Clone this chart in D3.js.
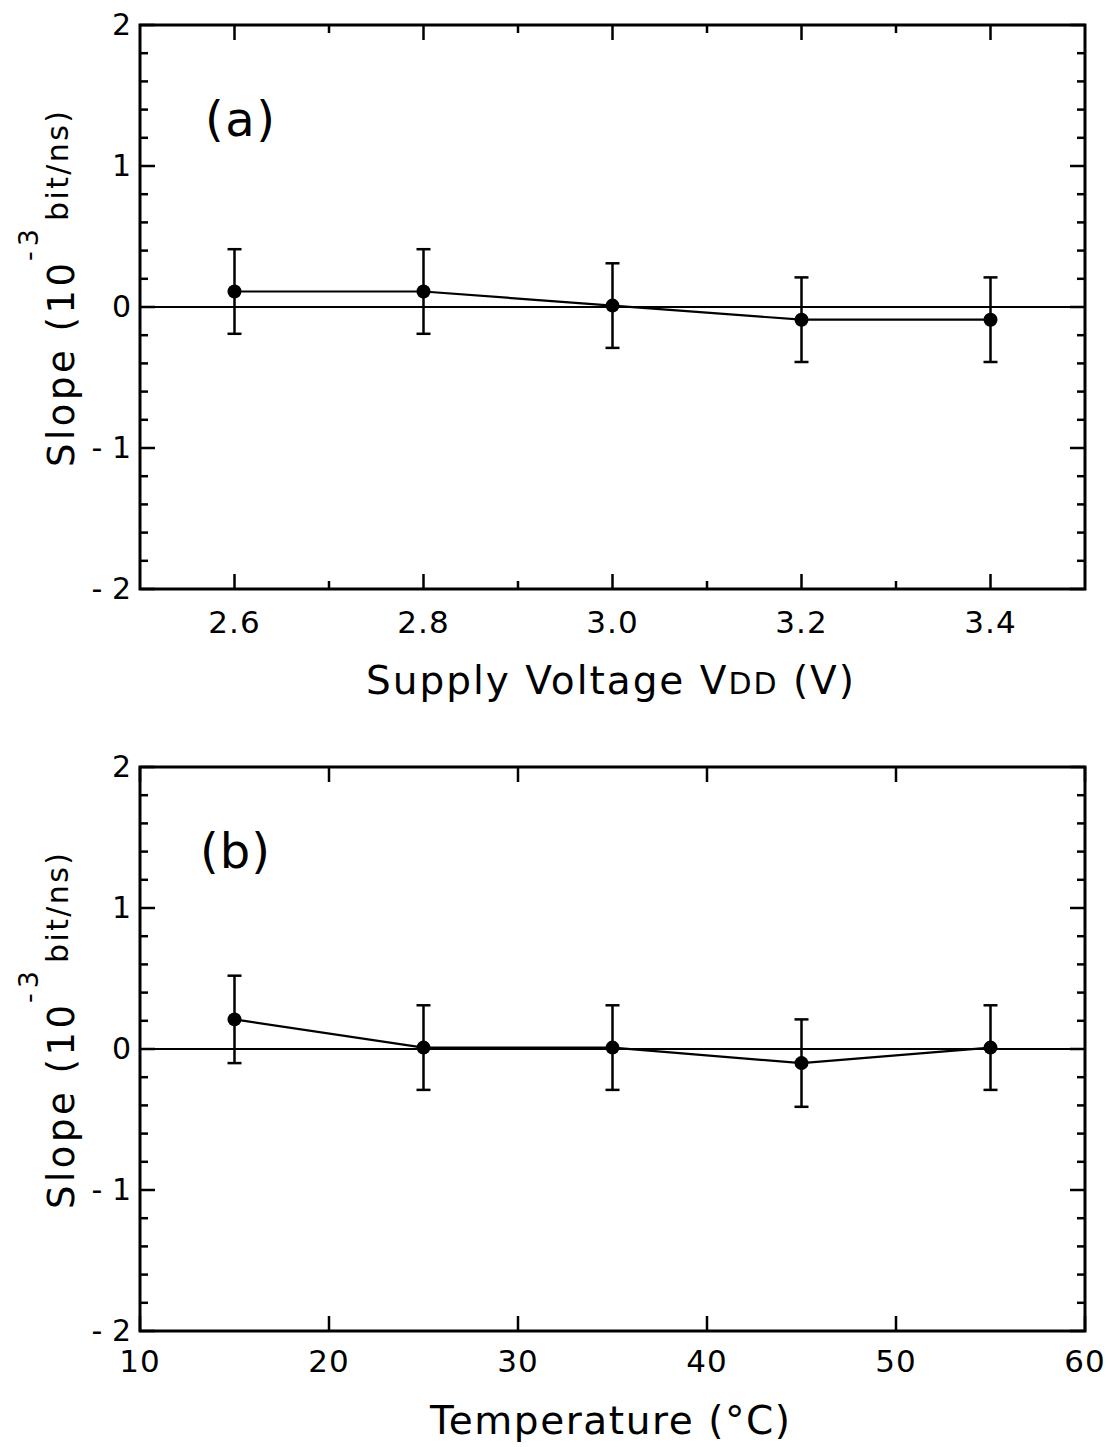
<!DOCTYPE html>
<html>
<head>
<meta charset="utf-8">
<script src="https://cdn.jsdelivr.net/npm/d3@7"></script>
<style>
  body { margin: 0; background: #fff; }
  text { font-family: "DejaVu Sans", sans-serif; fill: #000; }
</style>
</head>
<body>
<svg id="chart" width="1113" height="1447"></svg>
<script>
// panel (a): supply voltage
const vddValues = [2.6, 2.8, 3.0, 3.2, 3.4]
const vddSlope = [0.11, 0.11, 0.01, -0.09, -0.09]
const vddError = [0.3, 0.3, 0.3, 0.3, 0.3]
const vddTicks = [2.6, 2.8, 3.0, 3.2, 3.4]
const vddMinor = [2.7, 2.9, 3.1, 3.3]

// panel (b): temperature
const tempValues = [15, 25, 35, 45, 55]
const tempSlope = [0.21, 0.01, 0.01, -0.10, 0.01]
const tempError = [0.31, 0.3, 0.3, 0.31, 0.3]
const tempTicks = [10, 20, 30, 40, 50, 60]

const slopeTicks = [-2, -1, 0, 1, 2]
const slopeMinor = d3.range(-2, 2.01, 0.2).filter(v => Math.abs(v - Math.round(v)) > 0.01)

const svg = d3.select('#chart')

function drawPanel(opt) {
    let left = 140, right = 1085
    let x = d3.scaleLinear().domain(opt.xDomain).range([left, right])
    let y = d3.scaleLinear().domain([-2, 2]).range([opt.bottom, opt.top])
    let g = svg.append('g')

    // inward ticks on all four sides
    let major = 15, minor = 8
    let tickStyle = s => s.attr('stroke', '#000').attr('stroke-width', 2.5)

    opt.xTicks.forEach(function (v) {
        g.append('line').attr('x1', x(v)).attr('x2', x(v))
            .attr('y1', opt.bottom).attr('y2', opt.bottom - major).call(tickStyle)
        g.append('line').attr('x1', x(v)).attr('x2', x(v))
            .attr('y1', opt.top).attr('y2', opt.top + major).call(tickStyle)
        g.append('text').attr('x', x(v)).attr('y', opt.tickLabelY)
            .attr('text-anchor', 'middle').style('font-size', '31px')
            .attr('letter-spacing', 1)
            .text(opt.xFormat(v))
    })
    opt.xMinor.forEach(function (v) {
        g.append('line').attr('x1', x(v)).attr('x2', x(v))
            .attr('y1', opt.bottom).attr('y2', opt.bottom - minor).call(tickStyle)
        g.append('line').attr('x1', x(v)).attr('x2', x(v))
            .attr('y1', opt.top).attr('y2', opt.top + minor).call(tickStyle)
    })
    slopeTicks.forEach(function (v) {
        g.append('line').attr('x1', left).attr('x2', left + major)
            .attr('y1', y(v)).attr('y2', y(v)).call(tickStyle)
        g.append('line').attr('x1', right).attr('x2', right - major)
            .attr('y1', y(v)).attr('y2', y(v)).call(tickStyle)
        g.append('text').attr('x', 131).attr('y', y(v) + 10)
            .attr('text-anchor', 'end').style('font-size', '30px')
            .text(v < 0 ? '- ' + Math.abs(v) : v)
    })
    slopeMinor.forEach(function (v) {
        g.append('line').attr('x1', left).attr('x2', left + minor)
            .attr('y1', y(v)).attr('y2', y(v)).call(tickStyle)
        g.append('line').attr('x1', right).attr('x2', right - minor)
            .attr('y1', y(v)).attr('y2', y(v)).call(tickStyle)
    })

    // zero line
    g.append('line').attr('x1', left).attr('x2', right)
        .attr('y1', y(0)).attr('y2', y(0))
        .attr('stroke', '#000').attr('stroke-width', 2.2)

    // frame
    g.append('rect').attr('x', left).attr('y', opt.top)
        .attr('width', right - left).attr('height', opt.bottom - opt.top)
        .attr('fill', 'none').attr('stroke', '#000').attr('stroke-width', 3)

    let pts = opt.xs.map((v, i) => ({ x: v, y: opt.ys[i], e: opt.errs[i] }))

    // error bars
    pts.forEach(function (p) {
        let cx = x(p.x)
        g.append('line').attr('x1', cx).attr('x2', cx)
            .attr('y1', y(p.y + p.e)).attr('y2', y(p.y - p.e))
            .attr('stroke', '#000').attr('stroke-width', 2.5)
        ;[p.y + p.e, p.y - p.e].forEach(function (v) {
            g.append('line').attr('x1', cx - 7).attr('x2', cx + 7)
                .attr('y1', y(v)).attr('y2', y(v))
                .attr('stroke', '#000').attr('stroke-width', 2.5)
        })
    })

    let line = d3.line().x(d => x(d.x)).y(d => y(d.y))
    g.append('path').attr('d', line(pts))
        .attr('fill', 'none').attr('stroke', '#000').attr('stroke-width', 2.2)

    g.selectAll('circle.pt').data(pts).enter().append('circle')
        .attr('cx', d => x(d.x)).attr('cy', d => y(d.y)).attr('r', 7)
        .attr('fill', '#000')

    // panel tag
    g.append('text').attr('x', opt.tagX).attr('y', opt.tagY)
        .attr('textLength', 70).attr('lengthAdjust', 'spacing')
        .style('font-size', '48px').text(opt.tag)

    // y label: three pieces along the rotated baseline
    let yStart = opt.top + 442
    g.append('text')
        .attr('transform', 'translate(74,' + yStart + ') rotate(-90)')
        .attr('textLength', 204).attr('lengthAdjust', 'spacing')
        .style('font-size', '37px').text('Slope (10')
    g.append('text')
        .attr('transform', 'translate(38,' + (yStart - 206) + ') rotate(-90)')
        .attr('textLength', 32).attr('lengthAdjust', 'spacing')
        .style('font-size', '27px').text('-3')
    g.append('text')
        .attr('transform', 'translate(68,' + (yStart - 246) + ') rotate(-90)')
        .attr('textLength', 110).attr('lengthAdjust', 'spacing')
        .style('font-size', '30px').text('bit/ns)')

    // x label
    let xl = g.append('text').attr('x', opt.titleX).attr('y', opt.titleY)
        .attr('textLength', opt.titleLen).attr('lengthAdjust', 'spacing')
        .style('font-size', '39px')
    opt.xTitle(xl)
}

drawPanel({
    top: 25, bottom: 589,
    xDomain: [2.5, 3.5],
    xTicks: vddTicks, xMinor: vddMinor,
    xFormat: d3.format('.1f'),
    xs: vddValues, ys: vddSlope, errs: vddError,
    tickLabelY: 633,
    titleX: 366, titleY: 694, titleLen: 488,
    tag: '(a)', tagX: 205, tagY: 136,
    xTitle: function (t) {
        t.append('tspan').text('Supply Voltage V')
        t.append('tspan').style('font-size', '30px').text('DD')
        t.append('tspan').text(' (V)')
    }
})

drawPanel({
    top: 767, bottom: 1331,
    xDomain: [10, 60],
    xTicks: tempTicks, xMinor: [],
    xFormat: d3.format('d'),
    xs: tempValues, ys: tempSlope, errs: tempError,
    tickLabelY: 1372,
    titleX: 430, titleY: 1434, titleLen: 360,
    tag: '(b)', tagX: 200, tagY: 868,
    xTitle: function (t) {
        t.text('Temperature (°C)')
    }
})
</script>
</body>
</html>
